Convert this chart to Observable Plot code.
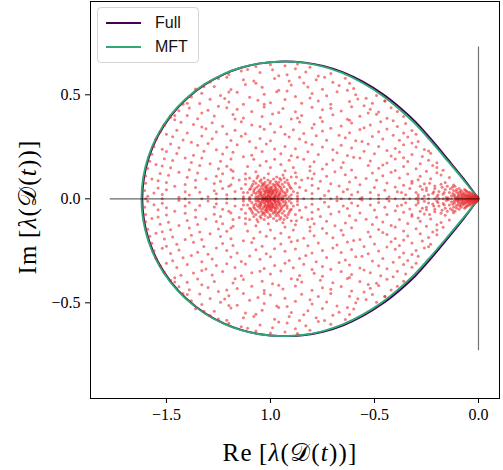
<!DOCTYPE html>
<html><head><meta charset="utf-8">
<script src="https://cdn.jsdelivr.net/npm/d3@7"></script>
<script src="https://cdn.jsdelivr.net/npm/@observablehq/plot@0.6"></script>
<style>
body{margin:0;background:#fff;}
#wrap{position:relative;width:503px;height:470px;overflow:hidden;}
#wrap svg{position:absolute;left:0;top:0;overflow:visible;}
.legend{position:absolute;left:97px;top:7px;width:100px;height:54px;border:1px solid #d4d4d4;border-radius:4px;background:rgba(255,255,255,0.85);font-family:"Liberation Sans",Arial,sans-serif;font-size:16px;color:#111;}
.legend .row{position:absolute;left:0;height:20px;line-height:20px;}
.legend .sw{position:absolute;left:8px;top:9px;width:35px;height:2px;}
.legend .lt{position:absolute;left:57px;top:0;white-space:nowrap;}
.lab{position:absolute;font-family:"Liberation Serif","DejaVu Serif",serif;font-size:25px;letter-spacing:1.2px;color:#000;white-space:nowrap;text-align:center;}
.lab i{font-style:italic;}
</style></head>
<body><div id="wrap"></div>
<script>
// ---- data ----
const xTicks = [-1.5, -1.0, -0.5, 0.0];
const xTickLabels = ["\u22121.5", "1.0", "\u22120.5", "0.0"];
const yTicks = [-0.5, 0.0, 0.5];
const yTickLabels = ["\u22120.5", "0.0", "0.5"];

const seriesNames = ["Full", "MFT"];
const seriesColors = ["#440154", "#2fa874"];

// upper half of the boundary (left -> right); lower half is the complex conjugate
const mftX = [-1.620,-1.612,-1.588,-1.546,-1.482,-1.408,-1.318,-1.226,-1.145,-1.061,-0.944,-0.848,-0.751,-0.655,-0.559,-0.463,-0.383,-0.310,-0.230,-0.150,-0.075,0.000];
const mftY = [0.000,0.100,0.200,0.300,0.400,0.480,0.550,0.600,0.630,0.650,0.660,0.655,0.637,0.605,0.558,0.497,0.433,0.366,0.278,0.184,0.094,0.000];
const fullX = [-1.616,-1.608,-1.584,-1.542,-1.478,-1.404,-1.314,-1.222,-1.141,-1.057,-0.940,-0.844,-0.747,-0.650,-0.554,-0.457,-0.377,-0.304,-0.225,-0.146,-0.072,0.000];
const fullY = [0.000,0.100,0.200,0.300,0.400,0.480,0.550,0.600,0.630,0.650,0.660,0.656,0.639,0.608,0.562,0.501,0.438,0.371,0.283,0.188,0.097,0.000];

// reference lines
const hLine = [-1.77, 0.0];   // real axis segment (x1, x2) at Im = 0
const vLine = [-0.73, 0.73];  // imaginary segment (y1, y2) at Re = 0

// real eigenvalues
const eigReal = [-1.60,-1.52,-1.41,-1.33,-1.26,-1.21,-1.17,-1.13,-1.10,-1.07,-1.05,-1.03,-1.02,-1.01,-1.0,-0.99,-0.98,-0.96,-0.94,-0.92,-0.90,-0.87,-0.84,-0.80,-0.76,-0.71,-0.66,-0.62,-0.57,-0.52,-0.48,-0.44,-0.40,-0.36,-0.33,-0.30,-0.27,-0.24,-0.21,-0.19,-0.17,-0.15,-0.13,-0.11,-0.095,-0.08,-0.065,-0.05,-0.04,-0.03,-0.02,-0.012,-0.005,-0.001];

// complex eigenvalues with Im > 0 (their conjugates are also eigenvalues)
const eigBulk = [
[-1.07,0.636],[-1.00,0.645],[-0.93,0.640],[-0.87,0.648],[-0.81,0.632],
[-1.20,0.598],[-1.14,0.615],[-1.05,0.607],[-0.99,0.620],[-0.92,0.597],[-0.83,0.610],[-0.77,0.590],[-0.71,0.603],
[-1.29,0.561],[-1.21,0.584],[-1.13,0.572],[-1.07,0.555],[-0.98,0.579],[-0.91,0.566],[-0.86,0.585],[-0.78,0.572],[-0.70,0.560],[-0.64,0.580],
[-1.36,0.528],[-1.27,0.540],[-1.19,0.525],[-1.12,0.549],[-1.04,0.536],[-0.96,0.522],[-0.90,0.547],[-0.82,0.538],[-0.75,0.527],[-0.67,0.545],[-0.60,0.530],
[-1.38,0.490],[-1.33,0.508],[-1.24,0.497],[-1.16,0.512],[-1.10,0.488],[-1.03,0.503],[-0.97,0.515],[-0.88,0.492],[-0.80,0.506],[-0.73,0.496],[-0.68,0.515],[-0.59,0.500],[-0.54,0.484],[-0.49,0.497],
[-1.42,0.455],[-1.34,0.458],[-1.29,0.479],[-1.20,0.466],[-1.13,0.455],[-1.06,0.474],[-1.00,0.462],[-0.93,0.478],[-0.85,0.459],[-0.77,0.470],[-0.71,0.455],[-0.62,0.468],[-0.58,0.480],[-0.51,0.460],[-0.45,0.470],
[-1.44,0.423],[-1.39,0.437],[-1.30,0.426],[-1.25,0.445],[-1.16,0.431],[-1.09,0.420],[-1.03,0.441],[-0.94,0.434],[-0.88,0.419],[-0.80,0.440],[-0.75,0.428],[-0.66,0.422],[-0.61,0.443],[-0.52,0.430],[-0.48,0.417],[-0.42,0.438],
[-1.48,0.392],[-1.40,0.401],[-1.35,0.385],[-1.27,0.398],[-1.18,0.405],[-1.13,0.388],[-1.04,0.396],[-0.99,0.408],[-0.90,0.384],[-0.85,0.400],[-0.76,0.391],[-0.70,0.404],[-0.63,0.383],[-0.57,0.397],[-0.49,0.406],[-0.44,0.387],[-0.36,0.396],
[-1.51,0.352],[-1.43,0.368],[-1.37,0.357],[-1.28,0.366],[-1.23,0.349],[-1.14,0.370],[-1.09,0.355],[-1.00,0.361],[-0.95,0.347],[-0.86,0.369],[-0.79,0.358],[-0.75,0.372],[-0.66,0.350],[-0.61,0.364],[-0.52,0.355],[-0.47,0.370],[-0.39,0.348],[-0.35,0.362],
[-1.53,0.322],[-1.45,0.330],[-1.40,0.316],[-1.31,0.337],[-1.26,0.321],[-1.17,0.330],[-1.12,0.313],[-1.03,0.335],[-0.98,0.320],[-0.89,0.332],[-0.84,0.314],[-0.75,0.326],[-0.71,0.339],[-0.62,0.318],[-0.57,0.333],[-0.48,0.322],[-0.44,0.336],[-0.36,0.316],[-0.32,0.329],
[-1.55,0.286],[-1.47,0.298],[-1.42,0.283],[-1.33,0.302],[-1.28,0.289],[-1.19,0.280],[-1.14,0.301],[-1.05,0.290],[-1.00,0.279],[-0.91,0.297],[-0.86,0.287],[-0.78,0.303],[-0.73,0.282],[-0.64,0.294],[-0.59,0.279],[-0.51,0.299],[-0.46,0.287],[-0.38,0.281],[-0.34,0.297],[-0.29,0.276],
[-1.56,0.250],[-1.48,0.263],[-1.44,0.246],[-1.35,0.257],[-1.30,0.266],[-1.21,0.248],[-1.16,0.260],[-1.07,0.245],[-1.02,0.264],[-0.93,0.252],[-0.88,0.241],[-0.80,0.261],[-0.75,0.249],[-0.66,0.258],[-0.61,0.244],[-0.53,0.264],[-0.48,0.251],[-0.40,0.242],[-0.36,0.260],[-0.30,0.249],[-0.26,0.237],
[-1.57,0.214],[-1.50,0.228],[-1.45,0.218],[-1.37,0.209],[-1.32,0.229],[-1.23,0.215],[-1.18,0.224],[-1.09,0.210],[-1.04,0.228],[-0.95,0.217],[-0.90,0.207],[-0.82,0.226],[-0.77,0.213],[-0.68,0.222],[-0.63,0.208],[-0.55,0.229],[-0.50,0.217],[-0.42,0.206],[-0.38,0.225],[-0.32,0.213],[-0.27,0.203],[-0.23,0.219],
[-1.58,0.180],[-1.51,0.193],[-1.47,0.184],[-1.38,0.175],[-1.33,0.196],[-1.24,0.181],[-1.19,0.192],[-0.84,0.190],[-0.79,0.178],[-0.70,0.187],[-0.65,0.174],[-0.57,0.196],[-0.52,0.182],[-0.44,0.172],[-0.40,0.191],[-0.34,0.179],[-0.28,0.168],[-0.24,0.186],[-0.20,0.173],
[-1.59,0.146],[-1.52,0.158],[-1.48,0.149],[-1.39,0.140],[-1.34,0.160],[-1.25,0.145],[-1.21,0.156],[-0.81,0.155],[-0.75,0.143],[-0.66,0.151],[-0.61,0.139],[-0.53,0.160],[-0.48,0.147],[-0.40,0.136],[-0.36,0.155],[-0.30,0.144],[-0.25,0.132],[-0.20,0.150],[-0.17,0.137],
[-1.60,0.110],[-1.53,0.122],[-1.49,0.113],[-1.40,0.104],[-1.35,0.124],[-1.26,0.109],[-1.23,0.120],[-0.79,0.120],[-0.73,0.108],[-0.64,0.116],[-0.59,0.103],[-0.51,0.124],[-0.46,0.111],[-0.38,0.100],[-0.34,0.119],[-0.28,0.108],[-0.23,0.097],[-0.18,0.114],[-0.14,0.102],
[-1.60,0.075],[-1.54,0.087],[-1.50,0.078],[-1.41,0.069],[-1.36,0.089],[-1.27,0.074],[-1.24,0.085],[-0.76,0.085],[-0.71,0.073],[-0.62,0.081],[-0.57,0.068],[-0.49,0.089],[-0.44,0.076],[-0.36,0.065],[-0.32,0.084],[-0.26,0.073],[-0.21,0.062],[-0.16,0.079],[-0.12,0.067],
[-1.605,0.040],[-1.54,0.052],[-1.50,0.043],[-1.41,0.034],[-1.36,0.054],[-1.27,0.039],[-1.23,0.050],[-0.77,0.050],[-0.72,0.038],[-0.63,0.046],[-0.58,0.033],[-0.50,0.054],[-0.45,0.041],[-0.37,0.030],[-0.33,0.049],
[-1.59,0.012],[-1.52,0.021],[-1.44,0.008],[-1.39,0.018],[-1.30,0.010],[-1.26,0.024],[-0.74,0.016],[-0.68,0.009],[-0.61,0.020],[-0.56,0.006],[-0.48,0.018],[-0.43,0.010],[-0.35,0.019]
];

// further scattered eigenvalues between the rows above
const eigBulk2 = [
[-1.11,0.622],[-0.88,0.625],[-1.25,0.578],[-0.96,0.592],[-0.74,0.585],[-1.32,0.540],[-1.08,0.566],[-0.62,0.556],[-0.84,0.557],[-1.40,0.460],[-1.20,0.513],[-0.92,0.518],[-0.63,0.522],[-0.45,0.470],
[-1.46,0.400],[-1.22,0.482],[-1.03,0.455],[-0.81,0.485],[-0.55,0.448],[-0.39,0.420],[-1.33,0.413],[-1.21,0.438],[-0.96,0.415],[-0.71,0.435],[-0.53,0.412],
[-1.46,0.380],[-1.17,0.384],[-0.87,0.388],[-0.62,0.378],[-0.41,0.375],[-1.33,0.345],[-1.05,0.348],[-0.80,0.340],[-0.55,0.342],[-0.30,0.310],
[-1.50,0.310],[-1.21,0.312],[-0.93,0.310],[-0.67,0.306],[-0.41,0.305],[-1.38,0.272],[-1.10,0.275],[-0.83,0.272],[-0.56,0.276],[-0.32,0.268],
[-1.52,0.238],[-1.26,0.236],[-0.98,0.240],[-0.70,0.236],[-0.44,0.232],[-0.24,0.230],[-1.41,0.196],[-1.13,0.202],[-0.87,0.200],[-0.60,0.200],[-0.36,0.198],
[-1.55,0.165],[-1.29,0.168],[-0.73,0.166],[-0.46,0.162],[-0.22,0.160],[-1.44,0.128],[-1.18,0.132],[-0.69,0.130],[-0.42,0.128],[-0.20,0.125],
[-1.57,0.095],[-1.31,0.097],[-0.80,0.096],[-0.54,0.098],[-0.29,0.092],[-1.46,0.060],[-1.19,0.068],[-0.67,0.062],[-0.40,0.057],[-0.25,0.052],
[-1.56,0.028],[-1.34,0.032],[-1.21,0.020],[-0.80,0.026],[-0.65,0.034],[-0.52,0.030],[-0.39,0.034],[-0.29,0.020]
];

// dense group around Re = -1
const eigCluster = [
[-1.00,0.005],[-1.02,0.010],[-0.98,0.012],[-1.01,0.020],[-0.99,0.025],[-1.03,0.018],[-0.97,0.008],[-1.04,0.006],[-0.96,0.022],[-1.005,0.032],[-1.025,0.035],[-0.985,0.040],[-1.045,0.028],[-0.955,0.035],[-1.015,0.045],[-0.975,0.050],[-1.06,0.012],[-0.94,0.015],[-1.035,0.048],[-0.965,0.045],[-1.055,0.040],[-0.945,0.040],[-1.00,0.055],[-1.07,0.025],[-0.93,0.028],[-1.02,0.060],[-0.98,0.065],[-1.065,0.055],[-0.935,0.058],[-1.08,0.040],[-0.92,0.045],[-1.01,0.015],[-0.99,0.003],[-1.015,0.004],[-0.975,0.028],[-1.03,0.002],[-0.995,0.047],[-1.05,0.016],[-0.95,0.006],
[-1.005,0.010],[-0.995,0.016],[-1.012,0.027],[-0.988,0.034],[-1.022,0.042],[-0.978,0.020],[-1.038,0.011],[-0.962,0.013],[-1.028,0.024],[-0.972,0.038],[-1.048,0.035],[-0.952,0.026],[-1.008,0.038],[-0.992,0.057],[-1.018,0.052],[-0.982,0.002],[-1.058,0.004],[-0.942,0.003],[-1.042,0.060],[-0.958,0.062],[-1.075,0.048],[-0.925,0.020],[-1.09,0.018],[-0.91,0.010],[-1.085,0.070],[-0.915,0.075],[-1.05,0.085],[-0.95,0.09],[-1.10,0.045],[-0.90,0.05],[-1.03,0.07],[-0.97,0.072],[-1.012,0.09],[-0.985,0.095],[-1.065,0.10],[-0.935,0.10],[-1.13,0.03],[-0.87,0.028],[-1.12,0.095],[-0.875,0.105],
[-1.003,0.008],[-0.997,0.021],[-1.017,0.013],[-0.983,0.009],[-1.027,0.007],[-0.973,0.016],[-1.011,0.036],[-0.989,0.029],[-1.021,0.030],[-0.979,0.044],[-1.033,0.038],[-0.967,0.031],[-1.043,0.019],[-0.957,0.018],[-1.006,0.050],[-0.994,0.039],[-1.024,0.055],[-0.976,0.058],[-1.052,0.026],[-0.948,0.048],[-1.062,0.033],[-0.938,0.033],[-1.013,0.065],[-0.987,0.070],[-1.035,0.067],[-0.963,0.066],[-1.07,0.010],[-0.93,0.012],[-1.00,0.030],[-1.00,0.042],[-1.019,0.002],[-0.981,0.005],[-1.037,0.001],[-0.963,0.004],[-1.047,0.048],[-0.953,0.055],[-1.08,0.030],[-0.92,0.035],[-1.057,0.064],[-0.943,0.070],[-1.003,0.075],[-1.026,0.080],[-0.974,0.082],[-1.095,0.050],[-0.905,0.055],[-1.07,0.075],[-0.93,0.080],[-1.045,0.092],[-0.955,0.098],[-1.10,0.008],[-0.90,0.020],
[-1.09,0.060],[-0.91,0.065],[-1.04,0.075],[-0.96,0.080],[-1.00,0.085],[-1.08,0.085],[-0.92,0.090],[-1.11,0.030],[-0.89,0.035],[-1.12,0.070],[-0.88,0.075],[-1.03,0.100],[-0.97,0.105],[-1.06,0.110],[-0.94,0.115],[-1.10,0.100],[-0.90,0.105],[-1.13,0.010],[-0.87,0.012],[-1.14,0.050],[-0.86,0.055],[-1.01,0.120],[-1.07,0.130],[-0.93,0.135],[-1.15,0.090],[-0.85,0.090],[-1.12,0.120],[-0.88,0.125],[-1.17,0.035],[-0.83,0.040],
[-1.00,0.150],[-1.05,0.160],[-0.95,0.165],[-1.11,0.155],[-0.89,0.150],[-1.18,0.100],[-0.82,0.100],[-1.19,0.140],[-0.81,0.135],[-1.20,0.060],[-0.80,0.065],[-1.02,0.180],[-0.98,0.190],[-1.08,0.190],[-0.91,0.185]
];

// dense group near the origin
const eigOrigin = [
[-0.005,0.002],[-0.010,0.004],[-0.015,0.006],[-0.020,0.003],[-0.025,0.008],[-0.030,0.005],[-0.035,0.012],[-0.040,0.006],[-0.045,0.015],[-0.050,0.010],[-0.055,0.020],[-0.060,0.005],[-0.065,0.025],[-0.070,0.014],[-0.075,0.030],[-0.080,0.008],[-0.085,0.020],[-0.090,0.035],[-0.095,0.012],[-0.100,0.028],[-0.105,0.045],[-0.110,0.006],[-0.115,0.020],[-0.120,0.040],[-0.125,0.055],[-0.130,0.015],[-0.140,0.030],[-0.150,0.060],[-0.155,0.008],[-0.160,0.045],[-0.170,0.022],[-0.180,0.070],[-0.190,0.035],[-0.200,0.010],[-0.210,0.050],[-0.220,0.025],[-0.235,0.075],[-0.250,0.040],[-0.260,0.012],[-0.280,0.060],[-0.300,0.030],[-0.320,0.075],[-0.012,0.010],[-0.022,0.014],[-0.032,0.020],[-0.042,0.025],[-0.052,0.032],[-0.062,0.040],[-0.008,0.007],[-0.018,0.001],[-0.028,0.015],[-0.038,0.002],[-0.048,0.004],[-0.058,0.012],[-0.068,0.003],[-0.078,0.018],[-0.088,0.005],[-0.098,0.002],
[-0.003,0.006],[-0.007,0.012],[-0.013,0.016],[-0.017,0.009],[-0.023,0.019],[-0.027,0.002],[-0.033,0.026],[-0.037,0.009],[-0.043,0.031],[-0.047,0.018],[-0.053,0.003],[-0.057,0.036],[-0.063,0.016],[-0.067,0.045],[-0.073,0.022],[-0.077,0.006],[-0.083,0.040],[-0.087,0.028],[-0.093,0.050],[-0.097,0.018],[-0.103,0.008],[-0.108,0.035],[-0.113,0.060],[-0.118,0.012],[-0.123,0.026],[-0.135,0.048],[-0.145,0.004],[-0.165,0.030],[-0.175,0.055],[-0.195,0.018],[-0.215,0.034],[-0.240,0.020],[-0.270,0.045],[-0.290,0.008]
];

// ---- build tables ----
const upper = eigBulk.concat(eigBulk2, eigCluster, eigOrigin);
const eig = eigReal.map(re => ({re, im: 0}))
  .concat(upper.map(([re, im]) => ({re, im})))
  .concat(upper.map(([re, im]) => ({re, im: -im})));

function closed(xs, ys, name) {
  const pts = [];
  for (let i = xs.length - 1; i >= 0; i--) pts.push({re: xs[i], im: ys[i], name});
  for (let i = 1; i < xs.length; i++) pts.push({re: xs[i], im: -ys[i], name});
  return pts;
}
const fullCurve = closed(fullX, fullY, seriesNames[0]);
const mftCurve = closed(mftX, mftY, seriesNames[1]);

const chart = Plot.plot({
  width: 503, height: 470,
  marginLeft: 90, marginRight: 4, marginTop: 1, marginBottom: 72,
  x: {domain: [-1.865, 0.101]},
  y: {domain: [-0.960, 0.9486]},
  style: {fontFamily: "'Liberation Serif', 'DejaVu Serif', serif", fontSize: "16px", color: "#000", background: "transparent"},
  marks: [
    Plot.line(fullCurve, {x: "re", y: "im", stroke: seriesColors[0], strokeWidth: 1.9, curve: "catmull-rom"}),
    Plot.line(mftCurve, {x: "re", y: "im", stroke: seriesColors[1], strokeWidth: 1.9, curve: "catmull-rom"}),
    Plot.dot(eig, {x: "re", y: "im", r: 1.5, fill: "#e8282c", fillOpacity: 0.6, stroke: null}),
    Plot.ruleY([0], {x1: hLine[0], x2: hLine[1], stroke: "#000", strokeOpacity: 0.6, strokeWidth: 1.2}),
    Plot.ruleX([0], {y1: vLine[0], y2: vLine[1], stroke: "#000", strokeOpacity: 0.55, strokeWidth: 1.2}),
    Plot.frame({stroke: "#000", strokeWidth: 1}),
    Plot.axisX({ticks: xTicks, tickFormat: (d, i) => xTickLabels[i], tickSize: 5, tickPadding: 5, label: null, fontSize: 16}),
    Plot.axisY({ticks: yTicks, tickFormat: (d, i) => yTickLabels[i], tickSize: 5, tickPadding: 5, label: null, fontSize: 16})
  ]
});

const wrap = document.getElementById("wrap");
wrap.appendChild(chart);

// legend
const leg = document.createElement("div");
leg.className = "legend";
seriesNames.forEach((n, i) => {
  const row = document.createElement("div");
  row.className = "row";
  row.style.top = (5 + i * 24) + "px";
  row.style.width = "100%";
  const sw = document.createElement("div");
  sw.className = "sw";
  sw.style.background = seriesColors[i];
  const t = document.createElement("div");
  t.className = "lt";
  t.textContent = n;
  row.appendChild(sw); row.appendChild(t);
  leg.appendChild(row);
});
wrap.appendChild(leg);

// axis labels
const xl = document.createElement("div");
xl.className = "lab";
xl.style.left = "80px"; xl.style.width = "420px"; xl.style.top = "438px"; xl.style.lineHeight = "30px";
xl.innerHTML = "Re\u2009[<i>\u03bb</i>(\ud835\udc9f(<i>t</i>))]";
wrap.appendChild(xl);

const yl = document.createElement("div");
yl.className = "lab";
yl.style.left = (28 - 110) + "px"; yl.style.width = "220px"; yl.style.top = (207 - 15) + "px"; yl.style.lineHeight = "30px";
yl.style.transform = "rotate(-90deg)";
yl.innerHTML = "Im\u2009[<i>\u03bb</i>(\ud835\udc9f(<i>t</i>))]";
wrap.appendChild(yl);
</script>
</body></html>
